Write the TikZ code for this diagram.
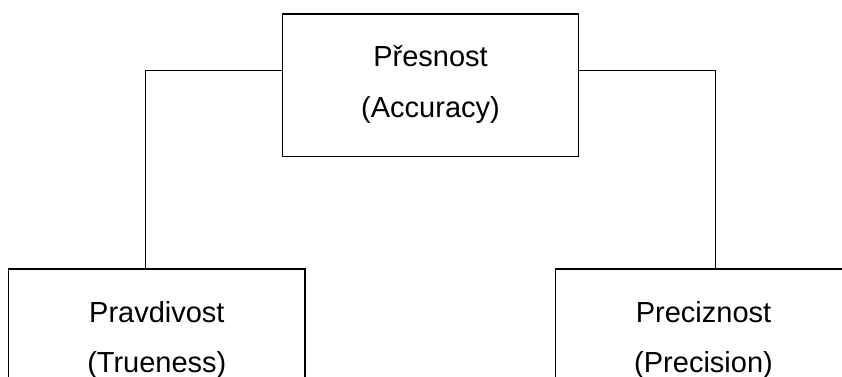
\documentclass[tikz,border=0pt]{standalone}
\usepackage{fontspec}
\setmainfont{Liberation Sans}
\usetikzlibrary{calc}
\tikzset{
  box/.style={draw=black, line width=1.3pt, rectangle, minimum width=296.4pt,
              minimum height=142.7pt, inner sep=0pt},
  lbl/.style={font=\fontsize{29}{34}\selectfont, text=black, inner sep=0pt, anchor=base},
  wire/.style={draw=black, line width=1.3pt}
}
\begin{document}
\begin{tikzpicture}[x=1pt,y=-1pt]
  \useasboundingbox (0,0) rectangle (842,376);
  \clip (0,0) rectangle (842,376);

  % boxes
  \node[box] (acc) at (430.5,85.35) {};
  \node[box] (tru) at (156.85,340.35) {};
  \node[box] (pre) at (703.5,340.35) {};

  % labels
  \node[lbl] (accA) at ($(acc.north)+(0,53)$) {Přesnost};
  \node[lbl] (accB) at ($(acc.north)+(0,104)$) {(Accuracy)};
  \node[lbl] (truA) at ($(tru.north)+(0,54)$) {Pravdivost};
  \node[lbl] (truB) at ($(tru.north)+(0,104)$) {(Trueness)};
  \node[lbl] (preA) at ($(pre.north)+(0,54)$) {Preciznost};
  \node[lbl] (preB) at ($(pre.north)+(0,104)$) {(Precision)};

  % connectors
  \coordinate (jl) at (145.3,70.7);
  \coordinate (jr) at (715.7,70.7);
  \draw[wire] (acc.west |- jl) -- (jl) -- (jl |- tru.north);
  \draw[wire] (acc.east |- jr) -- (jr) -- (jr |- pre.north);
\end{tikzpicture}
\end{document}
